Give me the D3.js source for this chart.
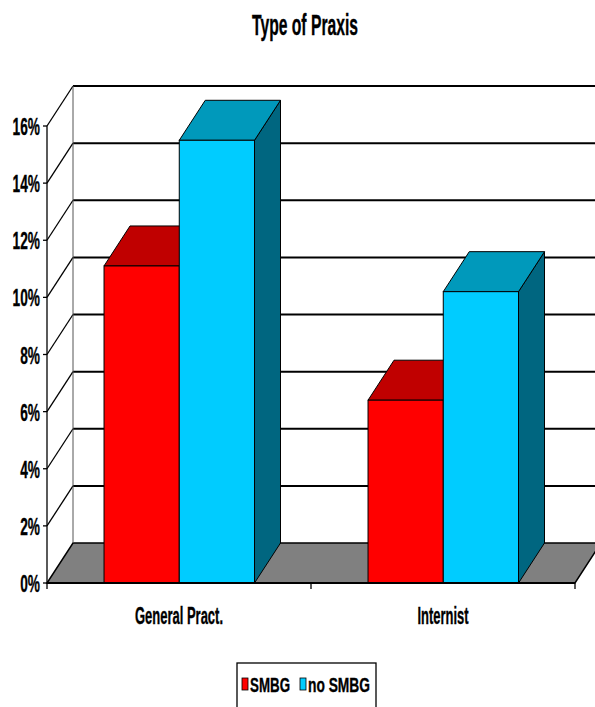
<!DOCTYPE html>
<html>
<head>
<meta charset="utf-8">
<script src="https://cdn.jsdelivr.net/npm/d3@7"></script>
<style>
  html, body { margin: 0; padding: 0; background: #fff; }
  svg { display: block; }
  text { font-family: "Liberation Sans", Arial, sans-serif; font-weight: bold; fill: #000;
         stroke: #000; stroke-width: 0.35px; }
</style>
</head>
<body>
<script>
// Share of patients by type of practice
const categories = ["General Pract.", "Internist"];
const seriesNames = ["SMBG", "no SMBG"];
const smbgValues = [11.1, 6.4];
const noSmbgValues = [15.5, 10.2];
const yTicks = [0, 2, 4, 6, 8, 10, 12, 14, 16];
const titleText = "Type of Praxis";

const W = 595, H = 707;
const svg = d3.select("body").append("svg").attr("width", W).attr("height", H);

// 3D projection of the depth axis
const dx = 26, dy = -40;

const x = d3.scaleBand().domain(categories).range([47, 575]).padding(0);
const sub = d3.scaleBand().domain(seriesNames)
  .range([x.bandwidth() * 0.216, x.bandwidth() * 0.786]).padding(0);
const y = d3.scaleLinear().domain([0, 16]).range([583, 126]);

const colors = {
  "SMBG": { front: "#ff0000", top: "#c00000", side: "#8a0000" },
  "no SMBG": { front: "#00ccff", top: "#0099bb", side: "#006680" }
};

// condense text horizontally to a target width
function fitWidth(sel, width) {
  sel.attr("textLength", width).attr("lengthAdjust", "spacingAndGlyphs");
}
function squeeze(sel, factor) {
  sel.each(function () {
    const w = this.getComputedTextLength();
    d3.select(this).attr("textLength", w * factor).attr("lengthAdjust", "spacingAndGlyphs");
  });
}

const x0 = x.range()[0], x1 = x.range()[1];
const yBase = y(0), yTop = y(16);
const farRight = x1 + dx + 2;

// floor
svg.append("polygon")
  .attr("points", [[x0, yBase], [x1, yBase], [x1 + dx, yBase + dy], [x0 + dx, yBase + dy]].join(" "))
  .attr("fill", "#808080").attr("stroke", "#000").attr("stroke-width", 1.5);

// back wall gridlines
svg.append("g").selectAll("line").data(yTicks.filter(t => t > 0)).join("line")
  .attr("x1", x0 + dx).attr("x2", farRight)
  .attr("y1", d => y(d) + dy).attr("y2", d => y(d) + dy)
  .attr("stroke", "#000").attr("stroke-width", 2);

// side wall diagonals
svg.append("g").selectAll("line").data(yTicks.filter(t => t > 0)).join("line")
  .attr("x1", x0).attr("y1", d => y(d))
  .attr("x2", x0 + dx).attr("y2", d => y(d) + dy)
  .attr("stroke", "#000").attr("stroke-width", 1.3);

// back-left corner edge
svg.append("line")
  .attr("x1", x0 + dx).attr("x2", x0 + dx)
  .attr("y1", yTop + dy).attr("y2", yBase + dy)
  .attr("stroke", "#555").attr("stroke-width", 1);

// bars
const rows = categories.map((c, i) => ({ cat: c, values: [
  { s: "SMBG", v: smbgValues[i] }, { s: "no SMBG", v: noSmbgValues[i] } ] }));

const barG = svg.append("g");
rows.forEach(r => {
  r.values.forEach(d => {
    const bx = x(r.cat) + sub(d.s), bw = sub.bandwidth();
    const by = y(d.v);
    const c = colors[d.s];
    barG.append("polygon")
      .attr("points", [[bx + bw, by], [bx + bw + dx, by + dy], [bx + bw + dx, yBase + dy], [bx + bw, yBase]].join(" "))
      .attr("fill", c.side).attr("stroke", "#000").attr("stroke-width", 1);
    barG.append("polygon")
      .attr("points", [[bx, by], [bx + bw, by], [bx + bw + dx, by + dy], [bx + dx, by + dy]].join(" "))
      .attr("fill", c.top).attr("stroke", "#000").attr("stroke-width", 1);
    barG.append("rect")
      .attr("x", bx).attr("y", by).attr("width", bw).attr("height", yBase - by)
      .attr("fill", c.front).attr("stroke", "#000").attr("stroke-width", 1);
  });
});

// y axis
svg.append("line").attr("x1", x0).attr("x2", x0).attr("y1", yTop).attr("y2", yBase)
  .attr("stroke", "#000").attr("stroke-width", 1.3);
svg.append("g").selectAll("line").data(yTicks).join("line")
  .attr("x1", x0 - 4).attr("x2", x0).attr("y1", d => y(d)).attr("y2", d => y(d))
  .attr("stroke", "#000").attr("stroke-width", 1.3);
const tickLabels = svg.append("g").selectAll("text").data(yTicks).join("text")
  .attr("x", 40).attr("y", d => y(d) + 9)
  .attr("text-anchor", "end").attr("font-size", 24)
  .text(d => d + "%");
squeeze(tickLabels, 0.57);

// x axis
svg.append("line").attr("x1", x0).attr("x2", x1).attr("y1", yBase).attr("y2", yBase)
  .attr("stroke", "#000").attr("stroke-width", 2);
const xTickPos = [x0].concat(categories.map(c => x(c) + x.bandwidth()));
svg.append("g").selectAll("line").data(xTickPos).join("line")
  .attr("x1", d => d).attr("x2", d => d).attr("y1", yBase).attr("y2", yBase + 6)
  .attr("stroke", "#000").attr("stroke-width", 1.3);

const catWidths = { "General Pract.": 88, "Internist": 51 };
svg.append("g").selectAll("text").data(categories).join("text")
  .attr("x", d => x(d) + x.bandwidth() / 2)
  .attr("y", 624)
  .attr("text-anchor", "middle").attr("font-size", 23)
  .text(d => d)
  .each(function (d) { fitWidth(d3.select(this), catWidths[d]); });

// title
svg.append("text").attr("x", 305).attr("y", 35).attr("text-anchor", "middle")
  .attr("font-size", 30).text(titleText)
  .call(fitWidth, 106);

// legend
const lg = svg.append("g");
lg.append("rect").attr("x", 237).attr("y", 663).attr("width", 139).attr("height", 60)
  .attr("fill", "#fff").attr("stroke", "#000").attr("stroke-width", 1.3);
const legendItems = [
  { s: "SMBG", sx: 242, tx: 250, tw: 40 },
  { s: "no SMBG", sx: 300, tx: 308, tw: 62 }
];
legendItems.forEach(it => {
  lg.append("rect").attr("x", it.sx).attr("y", 678).attr("width", 6).attr("height", 12)
    .attr("fill", colors[it.s].front).attr("stroke", "#000").attr("stroke-width", 0.8);
  lg.append("text").attr("x", it.tx).attr("y", 692).attr("font-size", 21)
    .text(it.s).call(fitWidth, it.tw);
});
</script>
</body>
</html>
